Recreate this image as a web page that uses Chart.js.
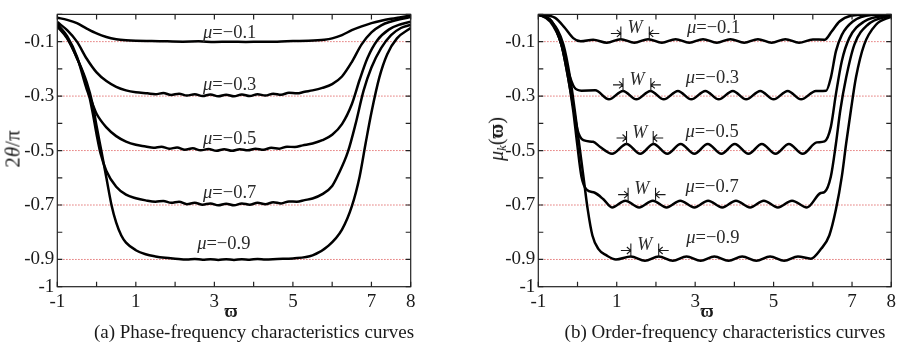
<!DOCTYPE html>
<html>
<head>
<meta charset="utf-8">
<script src="https://cdn.jsdelivr.net/npm/chart.js@4.4.1/dist/chart.umd.min.js"></script>
<style>
  html, body { margin: 0; padding: 0; background: #fff; }
  body { width: 900px; height: 344px; position: relative; overflow: hidden;
         font-family: "Liberation Serif", "DejaVu Serif", serif; color: #1a1a1a; }
  .box { position: absolute; top: 0; width: 450px; height: 344px; }
  .lbl { position: absolute; white-space: nowrap; transform: translate(-50%, -50%); font-size: 19px; line-height: 1; }
  .rot { transform: translate(-50%, -50%) rotate(-90deg); }
  sub { font-size: 13px; vertical-align: -3px; }
</style>
</head>
<body>
<div class="box" style="left:0"><canvas id="phaseChart"></canvas></div>
<div class="box" style="left:450px"><canvas id="orderChart"></canvas></div>

<div class="lbl rot" style="left:13px;top:149px;font-size:21px">2<i>θ</i>/π</div>
<div class="lbl rot" style="left:497px;top:139px;font-size:20px"><i>μ</i><sub><i>k</i></sub>(<b>ϖ</b>)</div>
<div class="lbl" style="left:231px;top:311px;font-weight:bold;font-size:18px">ϖ</div>
<div class="lbl" style="left:707px;top:311px;font-weight:bold;font-size:18px">ϖ</div>
<div class="lbl" style="left:254px;top:331px">(a) Phase-frequency characteristics curves</div>
<div class="lbl" style="left:725px;top:331px">(b) Order-frequency characteristics curves</div>

<script>
// axes
const xTickValues = [-1, 0, 1, 2, 3, 4, 5, 6, 7, 8];
const xTickLabels = [-1, 1, 3, 5, 7, 8];
const yTickValues = [-1, -0.9, -0.8, -0.7, -0.6, -0.5, -0.4, -0.3, -0.2, -0.1, 0];
const yTickLabels = [-0.1, -0.3, -0.5, -0.7, -0.9, -1];
const muLevels = [-0.1, -0.3, -0.5, -0.7, -0.9];

// (a) phase-frequency curves, one x/y pair per mu
const phaseX1 = [-1, -0.75, -0.5, -0.25, 0, 0.25, 0.5, 0.75, 1, 1.4, 1.8, 2.2, 2.6, 3.0, 3.4, 3.8, 4.2, 4.6, 5.0, 5.4, 5.8, 6.0, 6.25, 6.5, 6.75, 7.0, 7.25, 7.5, 7.75, 8];
const phaseY1 = [-0.012, -0.02, -0.032, -0.052, -0.07, -0.083, -0.091, -0.095, -0.097, -0.098, -0.099, -0.1, -0.099, -0.101, -0.1, -0.101, -0.1, -0.1, -0.098, -0.097, -0.093, -0.088, -0.076, -0.058, -0.044, -0.032, -0.023, -0.016, -0.01, -0.004];

const phaseX2 = [-1, -0.75, -0.5, -0.25, 0, 0.25, 0.5, 0.75, 1.0, 1.3, 1.5, 1.7, 1.9, 2.1, 2.3, 2.5, 2.7, 2.9, 3.1, 3.3, 3.5, 3.7, 3.9, 4.1, 4.3, 4.5, 4.7, 4.9, 5.1, 5.3, 5.5, 5.75, 6.0, 6.25, 6.5, 6.75, 7.0, 7.25, 7.5, 7.75, 8];
const phaseY2 = [-0.028, -0.058, -0.1, -0.163, -0.213, -0.245, -0.266, -0.279, -0.286, -0.29, -0.293, -0.289, -0.296, -0.291, -0.298, -0.293, -0.3, -0.294, -0.301, -0.295, -0.301, -0.294, -0.3, -0.293, -0.298, -0.291, -0.295, -0.288, -0.29, -0.284, -0.279, -0.27, -0.256, -0.228, -0.175, -0.11, -0.066, -0.04, -0.026, -0.017, -0.01];

const phaseX3 = [-1, -0.75, -0.5, -0.25, -0.1, 0, 0.25, 0.5, 0.75, 1.0, 1.25, 1.45, 1.65, 1.85, 2.05, 2.25, 2.45, 2.65, 2.85, 3.05, 3.25, 3.45, 3.65, 3.85, 4.05, 4.25, 4.45, 4.65, 4.85, 5.05, 5.25, 5.5, 5.75, 6.0, 6.25, 6.5, 6.7, 6.9, 7.15, 7.45, 7.75, 8];
const phaseY3 = [-0.035, -0.08, -0.155, -0.275, -0.33, -0.365, -0.415, -0.447, -0.467, -0.479, -0.485, -0.49, -0.486, -0.493, -0.489, -0.497, -0.492, -0.499, -0.494, -0.501, -0.495, -0.501, -0.495, -0.499, -0.493, -0.497, -0.49, -0.493, -0.486, -0.487, -0.481, -0.474, -0.462, -0.442, -0.403, -0.33, -0.24, -0.16, -0.095, -0.055, -0.036, -0.027];

const phaseX4 = [-1, -0.75, -0.5, -0.25, -0.1, 0, 0.1, 0.25, 0.5, 0.75, 1.0, 1.25, 1.5, 1.7, 1.9, 2.1, 2.3, 2.5, 2.7, 2.9, 3.1, 3.3, 3.5, 3.7, 3.9, 4.1, 4.3, 4.5, 4.7, 4.9, 5.1, 5.3, 5.5, 5.75, 6.0, 6.15, 6.4, 6.6, 6.8, 7.0, 7.25, 7.5, 7.75, 8];
const phaseY4 = [-0.04, -0.085, -0.16, -0.26, -0.36, -0.44, -0.51, -0.575, -0.633, -0.662, -0.675, -0.683, -0.688, -0.685, -0.692, -0.688, -0.697, -0.692, -0.699, -0.694, -0.701, -0.695, -0.701, -0.694, -0.699, -0.692, -0.697, -0.69, -0.694, -0.687, -0.688, -0.682, -0.676, -0.66, -0.63, -0.59, -0.505, -0.4, -0.28, -0.195, -0.123, -0.076, -0.05, -0.038];

const phaseX5 = [-1, -0.75, -0.5, -0.25, -0.1, 0, 0.12, 0.25, 0.38, 0.5, 0.63, 0.75, 1.0, 1.25, 1.5, 1.75, 2.0, 2.3, 2.5, 2.7, 2.9, 3.1, 3.3, 3.5, 3.7, 3.9, 4.1, 4.3, 4.6, 5.0, 5.5, 5.9, 6.25, 6.5, 6.7, 6.85, 7.0, 7.2, 7.4, 7.65, 8];
const phaseY5 = [-0.045, -0.088, -0.16, -0.25, -0.33, -0.41, -0.5, -0.6, -0.7, -0.765, -0.812, -0.838, -0.866, -0.881, -0.889, -0.894, -0.897, -0.9, -0.898, -0.901, -0.899, -0.902, -0.899, -0.902, -0.899, -0.901, -0.898, -0.9, -0.898, -0.896, -0.885, -0.85, -0.79, -0.705, -0.595, -0.475, -0.36, -0.232, -0.147, -0.088, -0.05];

// (b) order-frequency curves
const orderX1 = [-1, -0.58, -0.32, -0.11, 0.08, 0.4, 0.75, 1.1, 1.45, 1.8, 2.15, 2.5, 2.85, 3.2, 3.55, 3.9, 4.25, 4.6, 4.95, 5.3, 5.65, 6.0, 6.3, 6.48, 6.68, 6.97, 7.49, 8];
const orderY1 = [0, -0.012, -0.05, -0.087, -0.099, -0.093, -0.104, -0.091, -0.104, -0.091, -0.104, -0.091, -0.104, -0.091, -0.104, -0.091, -0.104, -0.091, -0.104, -0.091, -0.104, -0.092, -0.093, -0.063, -0.026, -0.005, 0, 0];

const orderX2 = [-1, -0.66, -0.41, -0.24, -0.08, 0.1, 0.45, 0.8, 1.16, 1.5, 1.86, 2.2, 2.56, 2.9, 3.26, 3.6, 3.96, 4.3, 4.66, 5.0, 5.36, 5.7, 6.08, 6.34, 6.46, 6.59, 6.74, 7.02, 7.49, 8];
const orderY2 = [0, -0.026, -0.111, -0.208, -0.268, -0.28, -0.279, -0.312, -0.281, -0.312, -0.281, -0.312, -0.281, -0.312, -0.281, -0.312, -0.281, -0.312, -0.281, -0.312, -0.281, -0.312, -0.281, -0.28, -0.232, -0.135, -0.075, -0.026, -0.002, 0];

const orderX3 = [-1, -0.66, -0.41, -0.24, -0.09, 0, 0.15, 0.4, 0.57, 0.88, 1.25, 1.6, 1.94, 2.29, 2.63, 2.98, 3.32, 3.67, 4.01, 4.36, 4.7, 5.05, 5.39, 5.74, 6.1, 6.3, 6.46, 6.59, 6.74, 6.93, 7.31, 8];
const orderY3 = [0, -0.026, -0.111, -0.232, -0.353, -0.425, -0.462, -0.468, -0.486, -0.512, -0.476, -0.512, -0.476, -0.512, -0.476, -0.512, -0.476, -0.512, -0.476, -0.512, -0.476, -0.512, -0.476, -0.512, -0.47, -0.466, -0.413, -0.292, -0.171, -0.087, -0.026, -0.002];

const orderX4 = [-1, -0.7, -0.41, -0.24, -0.11, -0.01, 0.1, 0.23, 0.44, 0.66, 0.88, 1.22, 1.57, 1.92, 2.27, 2.62, 2.98, 3.33, 3.69, 4.04, 4.4, 4.75, 5.11, 5.47, 5.85, 6.2, 6.3, 6.46, 6.59, 6.7, 6.85, 7.06, 7.4, 8];
const orderY4 = [0, -0.026, -0.111, -0.232, -0.353, -0.474, -0.595, -0.643, -0.655, -0.679, -0.709, -0.684, -0.709, -0.684, -0.709, -0.684, -0.709, -0.684, -0.709, -0.684, -0.709, -0.684, -0.709, -0.684, -0.709, -0.656, -0.652, -0.595, -0.474, -0.353, -0.232, -0.111, -0.038, -0.004];

const orderX5 = [-1, -0.66, -0.36, -0.19, -0.07, 0.04, 0.15, 0.26, 0.38, 0.53, 0.74, 0.98, 1.36, 1.72, 2.07, 2.43, 2.78, 3.14, 3.49, 3.85, 4.2, 4.56, 4.91, 5.27, 5.62, 5.95, 6.21, 6.42, 6.59, 6.74, 6.85, 6.97, 7.1, 7.31, 7.61, 8];
const orderY5 = [0, -0.026, -0.111, -0.232, -0.353, -0.474, -0.595, -0.716, -0.812, -0.861, -0.885, -0.9, -0.889, -0.905, -0.889, -0.905, -0.889, -0.905, -0.889, -0.905, -0.889, -0.905, -0.889, -0.905, -0.889, -0.897, -0.861, -0.812, -0.716, -0.595, -0.474, -0.353, -0.232, -0.111, -0.038, -0.008];

// annotation anchors (data coords)
const phaseLabelX = [3.39, 3.39, 3.39, 3.39, 3.24];
const phaseLabelY = [-0.067, -0.26, -0.457, -0.657, -0.845];
const orderLabelX = [3.47, 3.44, 3.43, 3.43, 3.45];
const orderLabelY = [-0.052, -0.233, -0.432, -0.633, -0.82];
// W markers: left bar, right bar, peak level
const wLeft = [1.105, 1.16, 1.25, 1.29, 1.36];
const wRight = [1.83, 1.87, 1.93, 1.99, 2.07];
const wPeak = [-0.092, -0.281, -0.476, -0.684, -0.889];

const FONT = "'Liberation Serif', 'DejaVu Serif', serif";
const zip = (xs, ys) => xs.map((x, i) => ({ x, y: ys[i] }));

function refLines() {
  return muLevels.map((lv) => ({
    data: [{ x: -1, y: lv }, { x: 8, y: lv }],
    borderColor: "rgba(215,55,55,0.85)",
    borderWidth: 1,
    borderDash: [1.2, 1.8],
    pointRadius: 0,
    order: 2,
  }));
}

function curve(xs, ys) {
  return {
    data: zip(xs, ys),
    borderColor: "#000",
    borderWidth: 2.5,
    pointRadius: 0,
    cubicInterpolationMode: "monotone",
    order: 1,
  };
}

const framePlugin = {
  id: "frame",
  afterDatasetsDraw(chart) {
    const { ctx, chartArea: a, scales: { x, y } } = chart;
    ctx.save();
    ctx.strokeStyle = "#222";
    ctx.lineWidth = 1.2;
    ctx.strokeRect(a.left, a.top, a.right - a.left, a.bottom - a.top);
    ctx.beginPath();
    xTickValues.forEach((v) => {
      const px = x.getPixelForValue(v);
      ctx.moveTo(px, a.bottom); ctx.lineTo(px, a.bottom - 5);
      ctx.moveTo(px, a.top); ctx.lineTo(px, a.top + 5);
    });
    yTickValues.forEach((v) => {
      const py = y.getPixelForValue(v);
      ctx.moveTo(a.left, py); ctx.lineTo(a.left + 5, py);
      ctx.moveTo(a.right, py); ctx.lineTo(a.right - 5, py);
    });
    ctx.stroke();
    ctx.restore();
  },
};

function drawMu(ctx, cx, cy, value) {
  const a = "μ";
  const b = "=−" + Math.abs(value).toFixed(1);
  ctx.font = `italic 18.5px ${FONT}`;
  const wa = ctx.measureText(a).width;
  ctx.font = `18.5px ${FONT}`;
  const wb = ctx.measureText(b).width;
  const x0 = cx - (wa + wb) / 2;
  ctx.textBaseline = "middle";
  ctx.textAlign = "left";
  ctx.font = `italic 18.5px ${FONT}`;
  ctx.fillText(a, x0, cy);
  ctx.font = `18.5px ${FONT}`;
  ctx.fillText(b, x0 + wa, cy);
}

const notePlugin = {
  id: "notes",
  afterDatasetsDraw(chart, args, opts) {
    const { ctx, scales: { x, y } } = chart;
    ctx.save();
    ctx.fillStyle = "#2a2a2a";
    opts.lx.forEach((lx, i) => {
      drawMu(ctx, x.getPixelForValue(lx), y.getPixelForValue(opts.ly[i]), muLevels[i]);
    });
    if (opts.w) {
      ctx.strokeStyle = "#1a1a1a";
      ctx.lineWidth = 1.1;
      wLeft.forEach((xl, i) => {
        const p1 = x.getPixelForValue(xl);
        const p2 = x.getPixelForValue(wRight[i]);
        const py = y.getPixelForValue(wPeak[i]);
        const ay = py - 6;
        ctx.beginPath();
        // bars
        ctx.moveTo(p1, py - 13); ctx.lineTo(p1, py);
        ctx.moveTo(p2, py - 13); ctx.lineTo(p2, py);
        // left arrow pointing right
        ctx.moveTo(p1 - 10, ay); ctx.lineTo(p1, ay);
        ctx.moveTo(p1 - 4, ay - 3.5); ctx.lineTo(p1, ay); ctx.lineTo(p1 - 4, ay + 3.5);
        // right arrow pointing left
        ctx.moveTo(p2 + 10, ay); ctx.lineTo(p2, ay);
        ctx.moveTo(p2 + 4, ay - 3.5); ctx.lineTo(p2, ay); ctx.lineTo(p2 + 4, ay + 3.5);
        ctx.stroke();
        ctx.font = `italic 18px ${FONT}`;
        ctx.textAlign = "center";
        ctx.textBaseline = "middle";
        ctx.fillText("W", (p1 + p2) / 2, py - 11);
      });
    }
    ctx.restore();
  },
};

function makeChart(id, curves, yWidth, rightPad, notes) {
  return new Chart(document.getElementById(id), {
    type: "line",
    data: { datasets: [...refLines(), ...curves] },
    options: {
      responsive: true,
      maintainAspectRatio: false,
      animation: false,
      layout: { padding: { left: 0, top: 10.7, right: rightPad, bottom: 0 } },
      plugins: { legend: { display: false }, tooltip: { enabled: false }, notes },
      scales: {
        x: {
          type: "linear",
          min: -1,
          max: 8,
          afterBuildTicks: (s) => { s.ticks = xTickValues.map((v) => ({ value: v })); },
          afterFit: (s) => { s.height = 344 - 286.7; },
          grid: { display: false, drawTicks: false },
          border: { display: false },
          ticks: {
            autoSkip: false,
            maxRotation: 0,
            padding: 4,
            color: "#1a1a1a",
            font: { family: FONT, size: 19 },
            callback: (v) => (xTickLabels.includes(v) ? String(v) : ""),
          },
        },
        y: {
          min: -1,
          max: 0,
          afterBuildTicks: (s) => { s.ticks = yTickValues.map((v) => ({ value: v })); },
          afterFit: (s) => { s.width = yWidth; },
          grid: { display: false, drawTicks: false },
          border: { display: false },
          ticks: {
            autoSkip: false,
            padding: 3,
            color: "#1a1a1a",
            font: { family: FONT, size: 19 },
            callback: (v) => (yTickLabels.includes(v) ? (v === -1 ? "-1" : v.toFixed(1)) : ""),
          },
        },
      },
    },
    plugins: [framePlugin, notePlugin],
  });
}

makeChart("phaseChart",
  [curve(phaseX1, phaseY1), curve(phaseX2, phaseY2), curve(phaseX3, phaseY3), curve(phaseX4, phaseY4), curve(phaseX5, phaseY5)],
  57.3, 39.3, { lx: phaseLabelX, ly: phaseLabelY, w: false });

makeChart("orderChart",
  [curve(orderX1, orderY1), curve(orderX2, orderY2), curve(orderX3, orderY3), curve(orderX4, orderY4), curve(orderX5, orderY5)],
  88.3, 8.3, { lx: orderLabelX, ly: orderLabelY, w: true });
</script>
</body>
</html>
